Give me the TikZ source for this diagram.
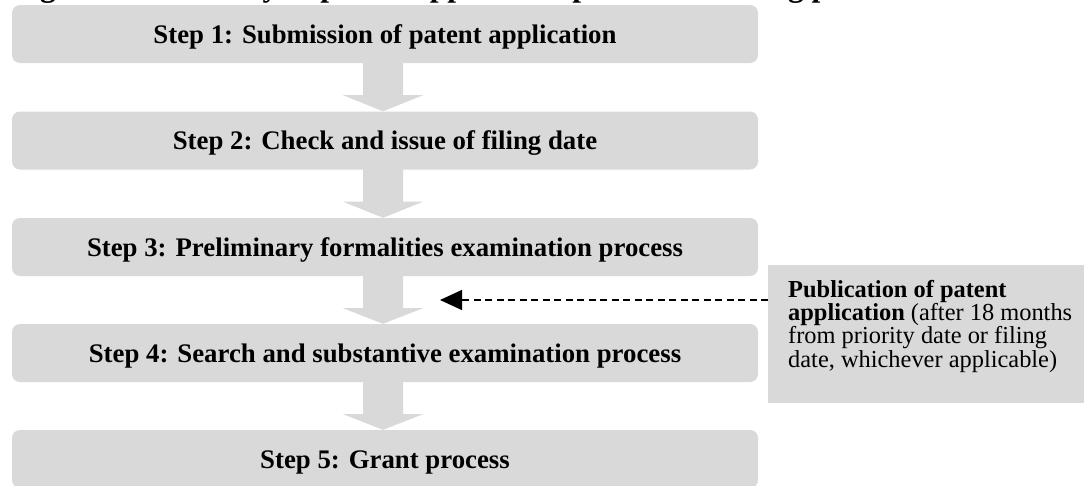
\documentclass[tikz,border=0pt]{standalone}
\usepackage{fontspec}
\setmainfont{Liberation Serif}
\usetikzlibrary{arrows.meta,calc}
\definecolor{boxgray}{HTML}{D9D9D9}
\tikzset{
  stepbox/.style={fill=boxgray, rounded corners=8pt, minimum width=746pt, minimum height=58pt,
    inner sep=0pt, text height=18pt, text depth=0pt, font=\fontsize{26.8}{30}\selectfont\bfseries},
  blockarrow/.style={fill=boxgray, draw=none},
  sidebox/.style={fill=boxgray, draw=none},
  sidetext/.style={inner sep=0pt, anchor=north west, align=left,
    font=\fontsize{24.4}{23.3}\selectfont},
  pubarrow/.style={draw=black, line width=1.3pt, dash pattern=on 7pt off 4.5pt,
    -{Triangle[length=22pt,width=20pt]}}
}
\begin{document}
\begin{tikzpicture}[x=1pt,y=-1pt]
\useasboundingbox (0,0) rectangle (1084,485);
\clip (0,0) rectangle (1084,485);
% title (cut off at top)
\node[anchor=base west, inner sep=0pt, font=\fontsize{31.5}{35}\selectfont\bfseries] (title) at (12,-4)
  {Figure 1: Summary of patent application process following patent};
% step boxes
\node[stepbox] (s1) at (385,34) {Step 1: Submission of patent application};
\node[stepbox] (s2) at (385,140.5) {Step 2: Check and issue of filing date};
\node[stepbox] (s3) at (385,247) {Step 3: Preliminary formalities examination process};
\node[stepbox] (s4) at (385,353) {Step 4: Search and substantive examination process};
\node[stepbox] (s5) at (385,459) {Step 5: Grant process};
% block arrows
\foreach \a/\b in {s1/s2,s2/s3,s3/s4,s4/s5}{
  \fill[blockarrow] ($(\a.south)+(-22,-1)$) -- ($(\a.south)+(18,-1)$) -- ($(\a.south)+(18,32)$)
     -- ($(\a.south)+(38,32)$) -- ($(\b.north)+(-2,0)$) -- ($(\a.south)+(-42,32)$)
     -- ($(\a.south)+(-22,32)$) -- cycle;
}
% side box
\fill[sidebox] (768,265) rectangle (1100,403);
\node[sidetext] (pub) at (788,280)
  {\textbf{Publication of patent}\\
   \textbf{application} (after 18 months\\
   from priority date or filing\\
   date, whichever applicable)};
\coordinate (pubstart) at (768,300);
\coordinate (pubtip) at (440,300);
\draw[pubarrow] (pubstart) -- (pubtip);
\end{tikzpicture}
\end{document}
